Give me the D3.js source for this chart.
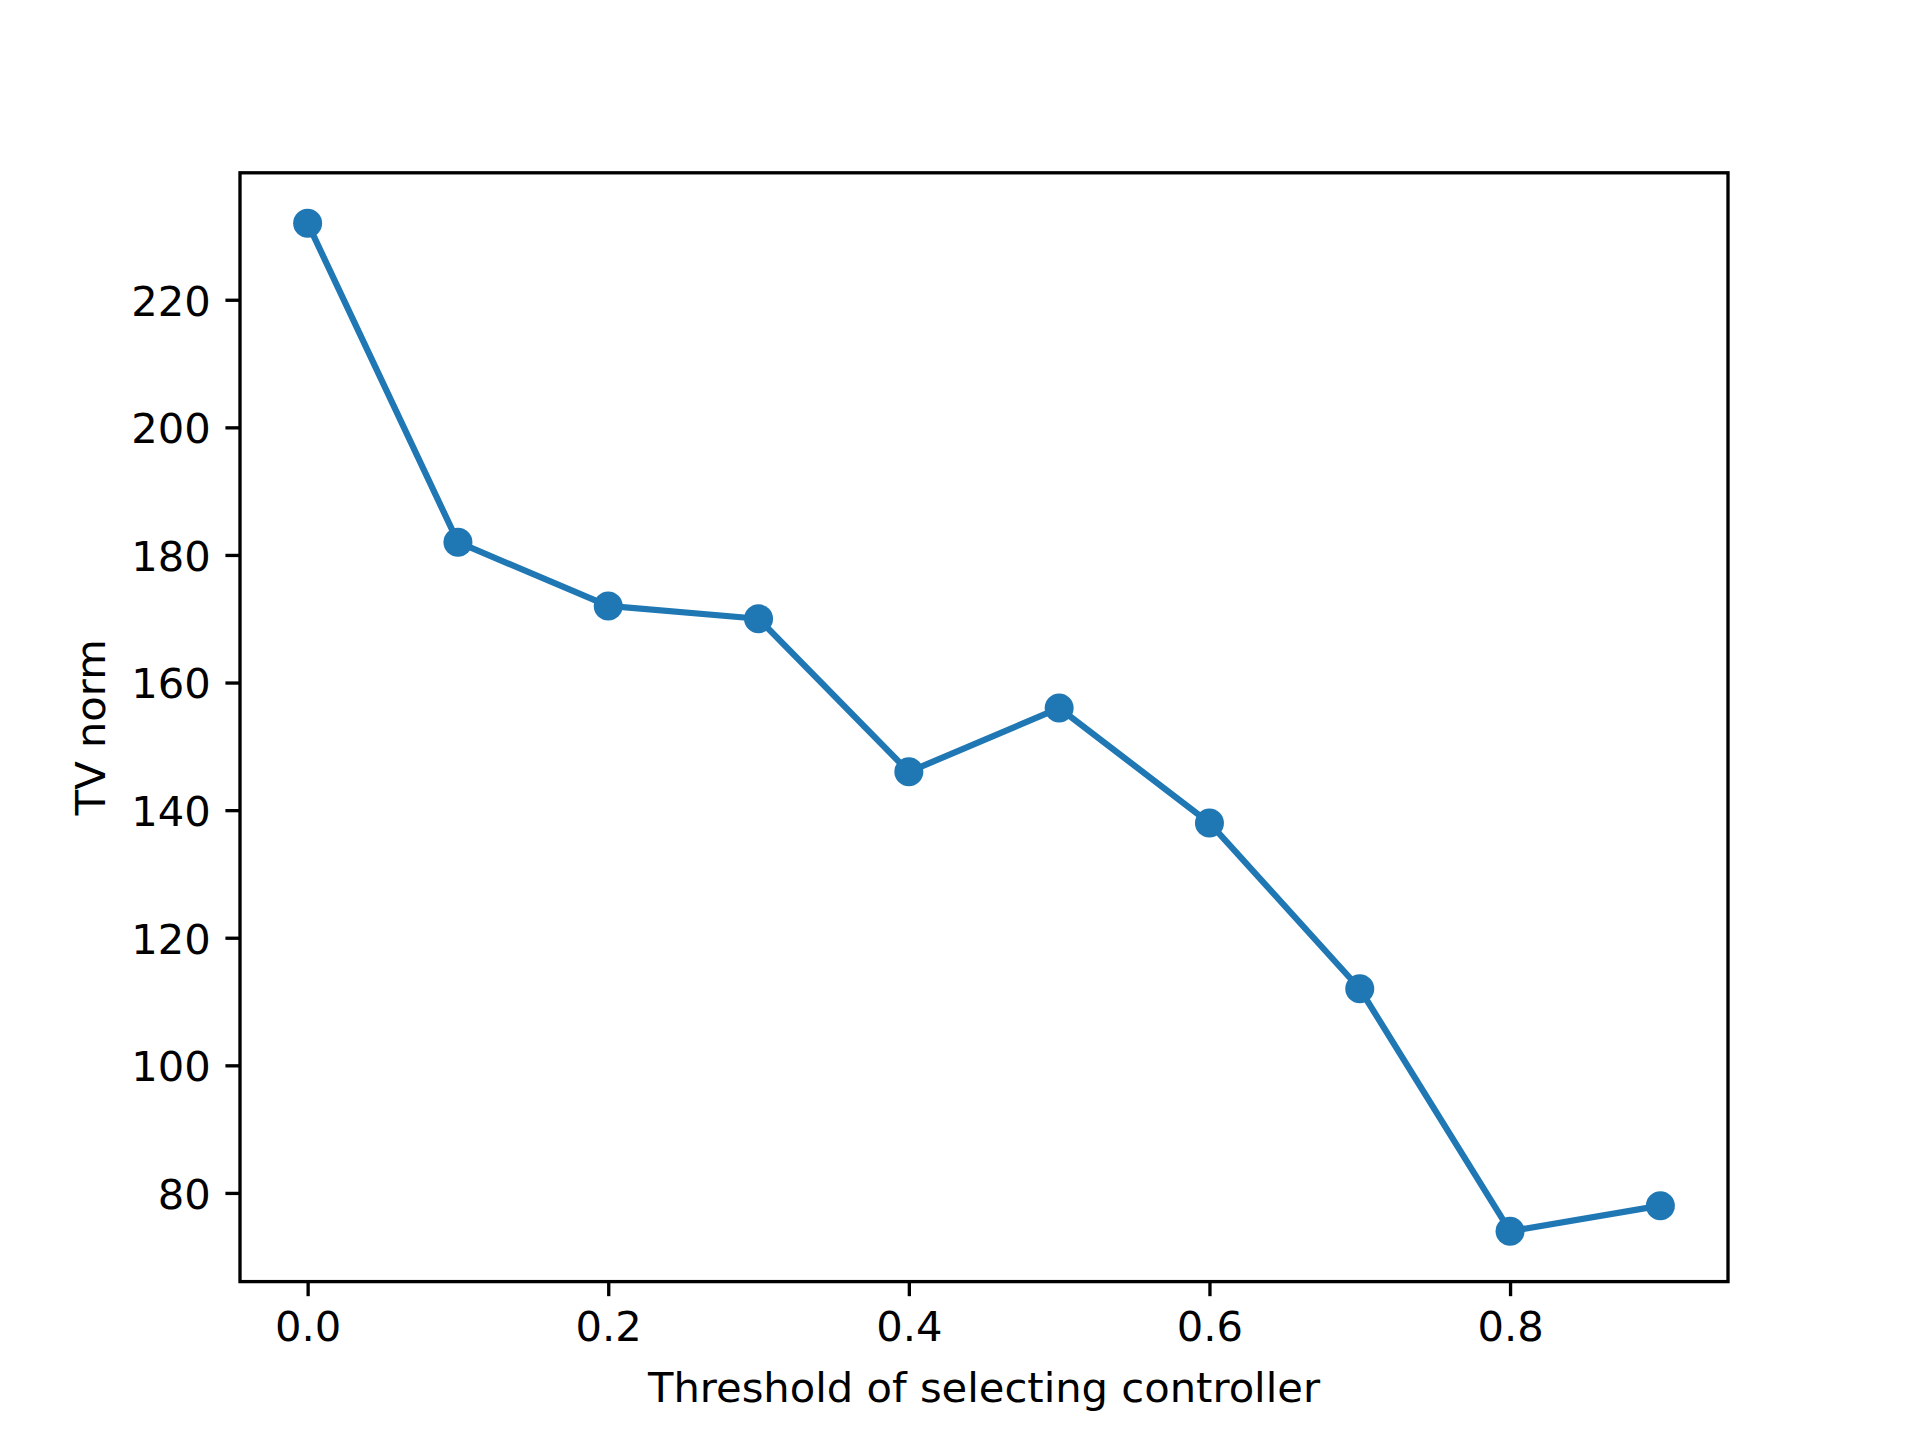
<!DOCTYPE html>
<html>
<head>
<meta charset="utf-8">
<script src="https://cdn.jsdelivr.net/npm/d3@7"></script>
<style>
body { margin: 0; background: #fff; }
svg { display: block; }
text { font-family: "DejaVu Sans", sans-serif; fill: #000; }
</style>
</head>
<body>
<script>
const thresholds = [0.0, 0.1, 0.2, 0.3, 0.4, 0.5, 0.6, 0.7, 0.8, 0.9];
const tvNorm = [232, 182, 172, 170, 146, 156, 138, 112, 74, 78];
const xTicks = [0.0, 0.2, 0.4, 0.6, 0.8];
const yTicks = [80, 100, 120, 140, 160, 180, 200, 220];
const xLabel = "Threshold of selecting controller";
const yLabel = "TV norm";

const W = 1920, H = 1440;
const mLeft = 240, mRight = 1728, mTop = 172.8, mBottom = 1281.6;
const fs = 41.67;
const tickLen = 14.58, pad = 14.58;
const color = "#1f77b4";

const svg = d3.select("body").append("svg").attr("width", W).attr("height", H);

const xmin = d3.min(thresholds), xmax = d3.max(thresholds);
const ymin = d3.min(tvNorm), ymax = d3.max(tvNorm);
const xm = (xmax - xmin) * 0.05, ym = (ymax - ymin) * 0.05;
const x = d3.scaleLinear().domain([xmin - xm, xmax + xm]).range([mLeft, mRight]);
const y = d3.scaleLinear().domain([ymin - ym, ymax + ym]).range([mBottom, mTop]);

// x axis
const xAxis = d3.axisBottom(x).tickValues(xTicks).tickFormat(d3.format(".1f"))
  .tickSize(tickLen).tickPadding(pad);
const gx = svg.append("g").attr("transform", `translate(0,${mBottom})`).call(xAxis);
gx.select(".domain").remove();
gx.selectAll(".tick line").attr("stroke", "#000").attr("stroke-width", 3.33);
gx.selectAll(".tick text").attr("font-size", fs).attr("font-family", "DejaVu Sans")
  .attr("dy", null).attr("y", tickLen + pad + 30.4);

// y axis
const yAxis = d3.axisLeft(y).tickValues(yTicks).tickFormat(d3.format("d"))
  .tickSize(tickLen).tickPadding(pad);
const gy = svg.append("g").attr("transform", `translate(${mLeft},0)`).call(yAxis);
gy.select(".domain").remove();
gy.selectAll(".tick line").attr("stroke", "#000").attr("stroke-width", 3.33);
gy.selectAll(".tick text").attr("font-size", fs).attr("font-family", "DejaVu Sans")
  .attr("dy", null).attr("y", 15.3);

// line
const line = d3.line().x((d, i) => x(thresholds[i])).y(d => y(d));
svg.append("path").datum(tvNorm).attr("d", line).attr("fill", "none")
  .attr("stroke", color).attr("stroke-width", 6.25).attr("stroke-linejoin", "round")
  .attr("stroke-linecap", "square");

svg.append("g").selectAll("circle").data(tvNorm).join("circle")
  .attr("cx", (d, i) => x(thresholds[i])).attr("cy", d => y(d))
  .attr("r", 14.5).attr("fill", color);

// frame
svg.append("rect").attr("x", mLeft).attr("y", mTop).attr("width", mRight - mLeft)
  .attr("height", mBottom - mTop).attr("fill", "none").attr("stroke", "#000")
  .attr("stroke-width", 3.33).attr("stroke-linecap", "square");

// labels
svg.append("text").attr("x", (mLeft + mRight) / 2).attr("y", 1402.3)
  .attr("text-anchor", "middle").attr("font-size", fs).text(xLabel);
svg.append("text").attr("transform", `translate(105,${(mTop + mBottom) / 2}) rotate(-90)`)
  .attr("text-anchor", "middle").attr("font-size", fs).text(yLabel);
</script>
</body>
</html>
